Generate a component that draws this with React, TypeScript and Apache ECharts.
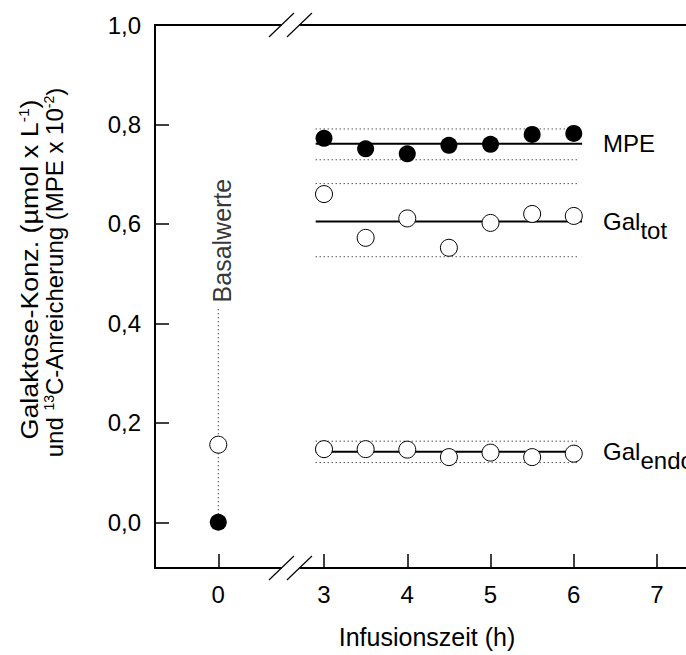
import React, { useEffect, useRef } from "react";
import * as echarts from "echarts";

// ---- data (hours / values) ----
const xTickHours = [0, 3, 4, 5, 6, 7];
const xTickLabels = ["0", "3", "4", "5", "6", "7"];
const yTickValues = [0, 0.2, 0.4, 0.6, 0.8, 1.0];

const infusionHours = [3, 3.5, 4, 4.5, 5, 5.5, 6];
const mpeValues = [0.772, 0.751, 0.741, 0.758, 0.76, 0.78, 0.782];
const galTotValues = [0.66, 0.572, 0.611, 0.552, 0.602, 0.62, 0.616];
const galEndoValues = [0.147, 0.147, 0.146, 0.131, 0.14, 0.131, 0.138];

const basalHour = 0;
const basalMpe = 0.0;
const basalGal = 0.156;
const basalLineTop = 0.434;

const mpeMean = 0.761;
const mpeBand = [0.729, 0.791];
const galTotMean = 0.605;
const galTotBand = [0.534, 0.681];
const galEndoMean = 0.142;
const galEndoBand = [0.12, 0.163];

const meanSpan = [2.9, 6.1];
const bandSpan = [2.9, 6.06];

const yTitleLine1 = "{a|Galaktose-Konz. (µmol x L}{p|-1}{a|)}";
const yTitleLine2 = "{a|und }{p|13}{a|C-Anreicherung (MPE x 10}{p|-2}{a|)}";

// ---- axis break mapping (hours -> axis units) ----
const BREAK_SHIFT = 1.73;
const toAxis = (h: number) => (h >= 1.5 ? h - BREAK_SHIFT : h);
const X_MIN = -0.76;
const X_MAX = 5.774;
const Y_MIN = -0.092;
const Y_MAX = 1.0;
const BREAK_A = 0.759;
const BREAK_B = 0.975;

const FONT = "'Liberation Sans', Arial, Helvetica, sans-serif";
const BLACK = "#000";

function App() {
  const ref = useRef<HTMLDivElement>(null);

  useEffect(() => {
    if (!ref.current) return;
    const chart = echarts.init(ref.current, undefined, { renderer: "svg" });

    const xTickAxis = xTickHours.map(toAxis);
    const dotted = { type: [1, 3] as any, width: 1, color: BLACK };

    const bandSeries = (band: number[]) =>
      band.map((v) => ({
        type: "line",
        data: bandSpan.map((h) => [toAxis(h), v]),
        symbol: "none",
        lineStyle: dotted,
        silent: true,
        z: 2,
      }));

    const meanSeries = (m: number, endLabel: any) => ({
      type: "line",
      data: meanSpan.map((h) => [toAxis(h), m]),
      symbol: "none",
      lineStyle: { color: BLACK, width: 2 },
      silent: true,
      z: 2,
      endLabel: {
        show: true,
        distance: 21,
        color: BLACK,
        fontSize: 24,
        fontFamily: FONT,
        ...endLabel,
      },
    });

    const subRich = {
      g: { fontSize: 24, color: BLACK, fontFamily: FONT },
      s: { fontSize: 24, color: BLACK, fontFamily: FONT, padding: [18, 0, 0, 0] },
    };

    const filled = { color: BLACK, opacity: 1 };
    const open = { color: "#fff", borderColor: BLACK, borderWidth: 1, opacity: 1 };

    const titleRich = {
      a: { fontSize: 24, lineHeight: 25, fill: BLACK, fontFamily: FONT },
      p: { fontSize: 14, fill: BLACK, fontFamily: FONT, verticalAlign: "top" },
    };

    const titleText = (text: string, x: number, y: number, stretch: number) => ({
      type: "text",
      x,
      y,
      rotation: Math.PI / 2,
      scaleX: stretch,
      silent: true,
      style: {
        text,
        rich: titleRich,
        align: "center",
        verticalAlign: "middle",
        fill: BLACK,
        fontFamily: FONT,
        fontSize: 24,
      },
    });

    chart.setOption({
      animation: false,
      backgroundColor: "#fff",
      textStyle: { fontFamily: FONT, color: BLACK },
      grid: { left: 155, right: 61, top: 25, bottom: 87, containLabel: false },
      graphic: [
        titleText(yTitleLine1, 29.5, 269.5, 1.12),
        titleText(yTitleLine2, 54.5, 272.5, 1),
      ],
      xAxis: [
        {
          type: "value",
          min: X_MIN,
          max: X_MAX,
          position: "bottom",
          axisLine: { show: true, onZero: false, lineStyle: { color: BLACK, width: 2 } },
          axisTick: {
            show: true,
            inside: true,
            length: 14,
            customValues: xTickAxis,
            lineStyle: { color: BLACK, width: 1.5 },
          },
          axisLabel: {
            show: true,
            customValues: xTickAxis,
            margin: 14,
            fontSize: 24,
            color: BLACK,
            fontFamily: FONT,
            formatter: (v: number) => {
              let best = 0;
              xTickAxis.forEach((t, i) => {
                if (Math.abs(t - v) < Math.abs(xTickAxis[best] - v)) best = i;
              });
              return xTickLabels[best];
            },
          },
          splitLine: { show: false },
          name: "Infusionszeit (h)",
          nameLocation: "middle",
          nameGap: 56,
          nameTextStyle: { fontSize: 25, color: BLACK, fontFamily: FONT },
        },
        {
          type: "value",
          min: X_MIN,
          max: X_MAX,
          position: "top",
          axisLine: { show: true, onZero: false, lineStyle: { color: BLACK, width: 2 } },
          axisTick: { show: false },
          axisLabel: { show: false },
          splitLine: { show: false },
        },
      ],
      yAxis: {
        type: "value",
        min: Y_MIN,
        max: Y_MAX,
        axisLine: { show: true, onZero: false, lineStyle: { color: BLACK, width: 2 } },
        axisTick: {
          show: true,
          inside: true,
          length: 14,
          customValues: yTickValues,
          lineStyle: { color: BLACK, width: 1.5 },
        },
        axisLabel: {
          show: true,
          customValues: yTickValues,
          margin: 14,
          fontSize: 24,
          color: BLACK,
          fontFamily: FONT,
          formatter: (v: number) => v.toFixed(1).replace(".", ","),
        },
        splitLine: { show: false },
      },
      series: [
        ...bandSeries(mpeBand),
        ...bandSeries(galTotBand),
        ...bandSeries(galEndoBand),
        meanSeries(mpeMean, { formatter: "MPE" }),
        meanSeries(galTotMean, { formatter: "{g|Gal}{s|tot}", rich: subRich }),
        meanSeries(galEndoMean, { formatter: "{g|Gal}{s|endo}", rich: subRich }),
        {
          type: "line",
          data: [
            [toAxis(basalHour), basalMpe],
            [toAxis(basalHour), basalLineTop],
          ],
          symbol: "none",
          lineStyle: dotted,
          silent: true,
          z: 2,
        },
        {
          type: "scatter",
          data: [[toAxis(basalHour), basalLineTop]],
          symbolSize: 1,
          itemStyle: { color: "rgba(0,0,0,0)" },
          silent: true,
          z: 3,
          label: {
            show: true,
            formatter: "Basalwerte",
            position: [4.5, -3.5],
            rotate: 90,
            align: "left",
            verticalAlign: "middle",
            fontSize: 25,
            color: BLACK,
            fontFamily: FONT,
          },
        },
        {
          type: "scatter",
          data: infusionHours.map((h, i) => [toAxis(h), galTotValues[i]]),
          symbol: "circle",
          symbolSize: 17,
          itemStyle: open,
          silent: true,
          z: 4,
        },
        {
          type: "scatter",
          data: infusionHours.map((h, i) => [toAxis(h), galEndoValues[i]]),
          symbol: "circle",
          symbolSize: 17,
          itemStyle: open,
          silent: true,
          z: 4,
        },
        {
          type: "scatter",
          data: infusionHours.map((h, i) => [toAxis(h), mpeValues[i]]),
          symbol: "circle",
          symbolSize: 17,
          itemStyle: filled,
          silent: true,
          z: 4,
        },
        {
          type: "scatter",
          data: [[toAxis(basalHour), basalGal]],
          symbol: "circle",
          symbolSize: 17,
          itemStyle: open,
          silent: true,
          z: 4,
        },
        {
          type: "scatter",
          data: [[toAxis(basalHour), basalMpe]],
          symbol: "circle",
          symbolSize: 17,
          itemStyle: filled,
          silent: true,
          z: 4,
        },
        {
          type: "custom",
          clip: false,
          silent: true,
          z: 10,
          data: [[0, 0]],
          renderItem: (_params: any, api: any) => {
            const yB = api.coord([0, Y_MIN])[1];
            const yT = api.coord([0, Y_MAX])[1];
            const x1 = api.coord([BREAK_A, 0])[0];
            const x2 = api.coord([BREAK_B, 0])[0];
            const children: any[] = [];
            [yB, yT].forEach((y) => {
              children.push({
                type: "rect",
                shape: { x: x1, y: y - 2, width: x2 - x1, height: 4 },
                style: { fill: "#fff" },
              });
              [x1, x2].forEach((x) => {
                children.push({
                  type: "line",
                  shape: { x1: x - 12.5, y1: y + 12, x2: x + 12.5, y2: y - 12 },
                  style: { stroke: BLACK, lineWidth: 1.2 },
                });
              });
            });
            return { type: "group", children };
          },
        },
      ],
    });

    return () => chart.dispose();
  }, []);

  return (
    <div
      style={{
        position: "fixed",
        left: 0,
        top: 0,
        width: 686,
        height: 655,
        overflow: "hidden",
        background: "#fff",
      }}
    >
      <div ref={ref} style={{ width: 760, height: 655 }} />
    </div>
  );
}

export default App;
